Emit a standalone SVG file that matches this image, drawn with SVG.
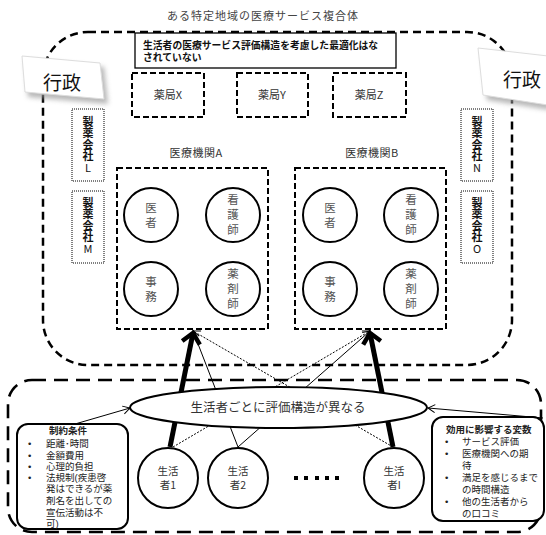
<svg xmlns="http://www.w3.org/2000/svg" width="546" height="535" viewBox="0 0 546 535">
<defs>
<style>
text{font-family:"Noto Sans CJK JP","Noto Sans",sans-serif;fill:#333}
.c{text-anchor:middle}
.dash1{fill:none;stroke:#000;stroke-width:2.5;stroke-dasharray:8 5}
.dash2{fill:none;stroke:#000;stroke-width:2.6;stroke-dasharray:14 8}
.box{fill:none;stroke:#000;stroke-width:2;stroke-dasharray:6 3}
.dot{fill:#fff;stroke:#000;stroke-width:1;stroke-dasharray:1 1}
.circ{fill:#fff;stroke:#000;stroke-width:2}
.ct{font-size:11.5px;fill:#555;text-anchor:middle}
.vt{font-size:11px;fill:#111;font-weight:bold;writing-mode:vertical-rl;text-orientation:upright;letter-spacing:0.6px}
.thick{stroke:#000;stroke-width:5;fill:none}
.thin{stroke:#000;stroke-width:1;fill:none}
.dotted{stroke:#000;stroke-width:1;stroke-dasharray:2 1.5;fill:none}
.lt{font-size:9.5px;fill:#222;font-family:"Liberation Sans","Noto Sans CJK JP",sans-serif}
.bt{font-size:9.5px;fill:#222;font-weight:bold}
.nt{font-size:9.8px;fill:#111;font-weight:bold;font-family:"Liberation Sans","Noto Sans CJK JP",sans-serif}
</style>
<marker id="bigArrow" markerUnits="userSpaceOnUse" markerWidth="24" markerHeight="24" refX="12" refY="12" orient="auto" viewBox="0 0 24 24">
<path d="M2,3 L12,12 L2,21" fill="none" stroke="#000" stroke-width="4.5" stroke-linejoin="miter"/>
</marker>
<marker id="smallArrow" markerUnits="userSpaceOnUse" markerWidth="12" markerHeight="12" refX="9" refY="6" orient="auto" viewBox="0 0 12 12">
<path d="M2,2 L9,6 L2,10" fill="none" stroke="#000" stroke-width="1"/>
</marker>
<filter id="sh" x="-20%" y="-20%" width="140%" height="140%"><feGaussianBlur stdDeviation="2.5"/></filter>
</defs>

<text class="c" x="263" y="20" style="font-size:11px;letter-spacing:1px;fill:#444">ある特定地域の医療サービス複合体</text>

<g id="complex">
<rect class="dash1" x="43" y="32" width="469" height="333" rx="45"/>
</g>
<g id="consumers-area">
<rect class="dash2" x="8" y="380" width="533" height="152" rx="24"/>
</g>

<g id="notice">
<rect x="135" y="33" width="261" height="35" fill="#fff" stroke="#000" stroke-width="1.3"/>
<text class="nt" x="143" y="49">生活者の医療サービス評価構造を考慮した最適化はな<tspan x="143" y="61">されていない</tspan></text>
</g>

<g id="pharmacyX"><rect class="box" x="132" y="73" width="72" height="44"/><text class="c" x="168" y="99" style="font-size:11px">薬局X</text></g>
<g id="pharmacyY"><rect class="box" x="237" y="73" width="71" height="44"/><text class="c" x="272" y="99" style="font-size:11px">薬局Y</text></g>
<g id="pharmacyZ"><rect class="box" x="333" y="73" width="73" height="44"/><text class="c" x="369" y="99" style="font-size:11px">薬局Z</text></g>

<g id="gov-left">
<polygon points="25,60 104,67 108,104 28,97" fill="#999" filter="url(#sh)" opacity="0.7"/>
<polygon points="22,56 100,63 104,99 25,92" fill="#fff" stroke="#ddd" stroke-width="1"/>
<text class="c" x="62" y="90" style="font-size:19px;fill:#111">行政</text>
</g>
<g id="gov-right">
<polygon points="482,52 550,60 550,110 487,100" fill="#999" filter="url(#sh)" opacity="0.7"/>
<polygon points="478,48 548,56 548,105 483,95" fill="#fff" stroke="#ddd" stroke-width="1"/>
<text class="c" x="522" y="87" style="font-size:19px;fill:#111">行政</text>
</g>

<g id="pharmaL"><rect class="dot" x="72" y="109" width="32" height="72"/><text class="vt" x="88" y="116">製薬会社<tspan style="font-weight:normal">L</tspan></text></g>
<g id="pharmaM"><rect class="dot" x="72" y="191" width="32" height="72"/><text class="vt" x="88" y="197">製薬会社<tspan style="font-weight:normal">M</tspan></text></g>
<g id="pharmaN"><rect class="dot" x="461" y="109" width="32" height="72"/><text class="vt" x="477" y="116">製薬会社<tspan style="font-weight:normal">N</tspan></text></g>
<g id="pharmaO"><rect class="dot" x="461" y="191" width="32" height="72"/><text class="vt" x="477" y="197">製薬会社<tspan style="font-weight:normal">O</tspan></text></g>

<g id="hospitalA">
<text class="c" x="196" y="157" style="font-size:11px;letter-spacing:0.5px">医療機関A</text>
<rect class="box" x="117" y="168" width="151" height="161"/>
<circle class="circ" cx="151" cy="215" r="27"/><text class="ct" x="151" y="212">医<tspan x="151" y="227">者</tspan></text>
<circle class="circ" cx="233" cy="215" r="27"/><text class="ct" x="233" y="204">看<tspan x="233" y="219">護</tspan><tspan x="233" y="234">師</tspan></text>
<circle class="circ" cx="151" cy="289" r="27"/><text class="ct" x="151" y="286">事<tspan x="151" y="301">務</tspan></text>
<circle class="circ" cx="233" cy="289" r="27"/><text class="ct" x="233" y="278">薬<tspan x="233" y="293">剤</tspan><tspan x="233" y="308">師</tspan></text>
</g>
<g id="hospitalB">
<text class="c" x="372" y="157" style="font-size:11px;letter-spacing:0.5px">医療機関B</text>
<rect class="box" x="295" y="168" width="151" height="161"/>
<circle class="circ" cx="330" cy="215" r="27"/><text class="ct" x="330" y="212">医<tspan x="330" y="227">者</tspan></text>
<circle class="circ" cx="411" cy="215" r="27"/><text class="ct" x="411" y="204">看<tspan x="411" y="219">護</tspan><tspan x="411" y="234">師</tspan></text>
<circle class="circ" cx="330" cy="289" r="27"/><text class="ct" x="330" y="286">事<tspan x="330" y="301">務</tspan></text>
<circle class="circ" cx="411" cy="289" r="27"/><text class="ct" x="411" y="278">薬<tspan x="411" y="293">剤</tspan><tspan x="411" y="308">師</tspan></text>
</g>

<g id="connectors">
<line class="thick" x1="170" y1="447" x2="193" y2="333" marker-end="url(#bigArrow)"/>
<line class="thick" x1="393" y1="447" x2="370" y2="333" marker-end="url(#bigArrow)"/>
<line class="thin" x1="238" y1="447" x2="193" y2="331" marker-end="url(#smallArrow)"/>
<line class="thin" x1="238" y1="447" x2="370" y2="331" marker-end="url(#smallArrow)"/>
<line class="dotted" x1="173" y1="447" x2="370" y2="331" marker-end="url(#smallArrow)"/>
<line class="dotted" x1="393" y1="447" x2="193" y2="331" marker-end="url(#smallArrow)"/>
<line class="thin" x1="75" y1="424" x2="130" y2="408" marker-end="url(#smallArrow)"/>
<line class="thin" x1="543" y1="418" x2="428" y2="408" marker-end="url(#smallArrow)"/>
</g>

<g id="evaluation">
<ellipse cx="278.5" cy="407.5" rx="148.5" ry="20.5" fill="#fff" stroke="#000" stroke-width="2"/>
<text class="c" x="278" y="412" style="font-size:12.5px;fill:#333">生活者ごとに評価構造が異なる</text>
</g>

<g id="consumer1"><circle class="circ" cx="168" cy="478" r="30"/><text class="c" x="168" y="475" style="font-size:10.5px">生活<tspan x="168" y="489">者1</tspan></text></g>
<g id="consumer2"><circle class="circ" cx="238" cy="478" r="30"/><text class="c" x="238" y="475" style="font-size:10.5px">生活<tspan x="238" y="489">者2</tspan></text></g>
<g id="consumerI"><circle class="circ" cx="394" cy="478" r="30"/><text class="c" x="394" y="475" style="font-size:10.5px">生活<tspan x="394" y="489">者I</tspan></text></g>
<g id="ellipsis" fill="#000">
<rect x="294" y="476" width="4" height="4"/><rect x="304" y="476" width="4" height="4"/><rect x="315" y="476" width="4" height="4"/><rect x="325" y="476" width="4" height="4"/><rect x="335" y="476" width="4" height="4"/>
</g>

<g id="constraints">
<rect x="17" y="424" width="111" height="105" rx="11" fill="#fff" stroke="#000" stroke-width="2"/>
<text class="lt"><tspan class="bt" x="49" y="434">制約条件</tspan><tspan x="28" y="447">•</tspan><tspan x="46" y="447">距離･時間</tspan><tspan x="28" y="459">•</tspan><tspan x="46" y="459">金額費用</tspan><tspan x="28" y="470">•</tspan><tspan x="46" y="470">心理的負担</tspan><tspan x="28" y="481">•</tspan><tspan x="46" y="481">法規制(疾患啓</tspan><tspan x="46" y="492">発はできるが薬</tspan><tspan x="46" y="504">剤名を出しての</tspan><tspan x="46" y="516">宣伝活動は不</tspan><tspan x="46" y="527">可)</tspan></text>
</g>

<g id="utility">
<rect x="432" y="417" width="112" height="104" rx="11" fill="#fff" stroke="#000" stroke-width="2"/>
<text class="lt"><tspan class="bt" x="446" y="433">効用に影響する変数</tspan><tspan x="445" y="445">•</tspan><tspan x="462" y="445">サービス評価</tspan><tspan x="445" y="457">•</tspan><tspan x="462" y="457">医療機関への期</tspan><tspan x="462" y="469">待</tspan><tspan x="445" y="481">•</tspan><tspan x="462" y="481">満足を感じるまで</tspan><tspan x="462" y="493">の時間構造</tspan><tspan x="445" y="505">•</tspan><tspan x="462" y="505">他の生活者から</tspan><tspan x="462" y="517">の口コミ</tspan></text>
</g>
</svg>
